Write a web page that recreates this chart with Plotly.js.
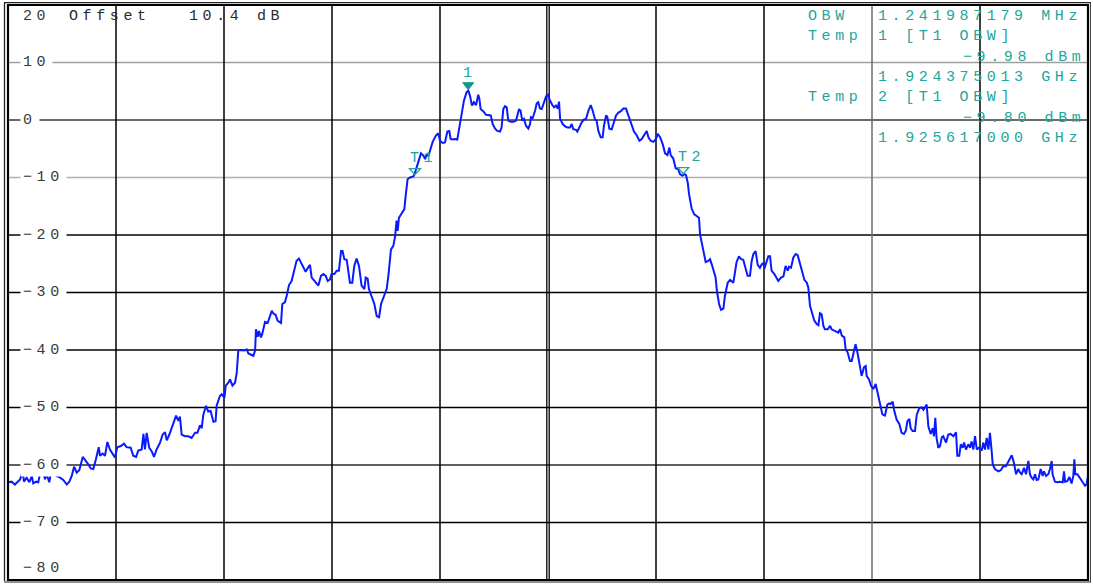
<!DOCTYPE html>
<html><head><meta charset="utf-8">
<script src="https://cdn.plot.ly/plotly-3.0.1.min.js"></script>
<style>
html,body{margin:0;padding:0;background:#fff;}
#chart{width:1093px;height:584px;}
text{letter-spacing:4.6px !important;}
</style></head><body><div id="chart"></div>
<script>
// ---- data (frequency in MHz, level in dBm) ----
const freqMHz = [
1922.502,1922.517,1922.532,1922.548,1922.556,1922.568,1922.574,1922.586,1922.599,1922.610,1922.617,1922.630,1922.640,1922.651,1922.660,1922.671,1922.679,1922.691,1922.702,1922.713,1922.725,1922.741,1922.756,1922.772,1922.784,1922.795,1922.806,1922.818,1922.830,1922.846,1922.861,1922.872,1922.883,1922.895,1922.907,1922.920,1922.926,1922.938,1922.949,1922.960,1922.972,1922.988,1922.995,1923.006,1923.022,1923.037,1923.049,1923.068,1923.080,1923.093,1923.103,1923.119,1923.127,1923.134,1923.142,1923.154,1923.165,1923.176,1923.188,1923.204,1923.216,1923.227,1923.235,1923.247,1923.262,1923.278,1923.289,1923.296,1923.304,1923.319,1923.335,1923.350,1923.366,1923.377,1923.389,1923.397,1923.404,1923.417,1923.427,1923.438,1923.451,1923.461,
1923.466,1923.481,1923.489,1923.502,1923.508,1923.520,1923.528,1923.539,1923.551,1923.559,1923.566,1923.579,1923.594,1923.605,1923.613,1923.628,1923.636,1923.644,1923.648,1923.656,1923.662,1923.671,1923.677,1923.690,1923.702,1923.713,1923.721,1923.728,1923.739,1923.748,1923.764,1923.770,1923.782,1923.790,1923.801,1923.813,1923.826,1923.836,1923.847,1923.856,1923.867,1923.878,1923.887,1923.898,1923.906,1923.918,1923.929,1923.937,1923.949,1923.960,1923.971,1923.980,1923.991,1923.998,1924.011,1924.022,1924.032,1924.042,1924.049,1924.057,1924.068,1924.076,1924.083,1924.094,1924.103,1924.114,1924.125,1924.137,1924.150,1924.156,1924.165,1924.171,1924.184,1924.196,1924.207,1924.218,1924.227,1924.238,1924.253,1924.261,1924.273,1924.284,1924.292,1924.299,1924.304,1924.310,1924.323,1924.335,1924.341,1924.350,1924.361,1924.377,1924.384,1924.392,1924.403,1924.412,1924.423,1924.431,1924.438,1924.446,
1924.454,1924.466,1924.481,1924.492,1924.500,1924.512,1924.523,1924.534,1924.543,1924.549,1924.559,1924.569,1924.580,1924.590,1924.600,1924.611,1924.623,1924.631,1924.639,1924.648,1924.657,1924.667,1924.677,1924.682,1924.688,1924.701,1924.713,1924.724,1924.735,1924.744,1924.755,1924.765,1924.778,1924.785,1924.793,1924.801,1924.809,1924.816,1924.827,1924.840,1924.852,1924.858,1924.866,1924.873,1924.881,1924.889,1924.898,1924.909,1924.917,1924.921,1924.929,1924.940,1924.948,1924.955,1924.963,1924.971,1924.981,1924.991,1925.000,1925.009,1925.020,1925.028,1925.037,1925.045,1925.051,1925.056,1925.068,1925.079,1925.090,1925.102,1925.110,1925.117,1925.130,1925.136,1925.145,1925.156,1925.167,1925.176,1925.187,1925.198,1925.207,1925.218,1925.225,1925.233,1925.244,1925.253,1925.259,1925.269,1925.275,1925.284,1925.295,1925.306,1925.315,1925.326,1925.336,1925.349,1925.361,1925.372,1925.383,1925.392,1925.398,1925.410,1925.423,1925.434,1925.444,1925.457,1925.465,1925.475,1925.488,1925.500,1925.508,1925.519,1925.531,1925.542,1925.553,1925.562,1925.568,1925.580,
1925.591,1925.603,1925.611,1925.622,1925.631,1925.639,1925.647,1925.653,1925.665,1925.677,1925.688,1925.699,1925.704,1925.715,1925.724,1925.730,1925.742,1925.750,1925.758,1925.770,1925.776,1925.782,1925.792,1925.801,1925.812,1925.819,1925.832,1925.843,1925.850,1925.858,1925.866,1925.873,1925.884,1925.894,1925.904,1925.912,1925.924,1925.935,1925.943,1925.951,1925.961,1925.971,1925.981,1925.989,1925.997,1926.002,1926.012,1926.020,1926.028,1926.035,1926.048,1926.059,1926.066,1926.079,1926.090,1926.100,1926.110,1926.116,1926.125,1926.136,1926.147,1926.156,1926.167,1926.178,1926.187,1926.198,1926.205,1926.213,1926.221,1926.233,1926.244,1926.252,1926.259,1926.267,1926.275,1926.282,1926.295,1926.306,1926.313,1926.329,1926.344,1926.352,1926.360,1926.372,1926.378,1926.387,1926.398,1926.406,1926.414,1926.424,1926.434,1926.444,1926.452,1926.463,1926.471,1926.475,1926.486,1926.495,1926.506,1926.517,1926.526,1926.537,1926.548,
1926.560,1926.571,1926.580,1926.586,1926.596,1926.602,1926.614,1926.627,1926.637,1926.648,1926.657,1926.664,1926.673,1926.679,1926.688,1926.699,1926.707,1926.719,1926.730,1926.738,1926.745,1926.753,1926.761,1926.772,1926.781,1926.787,1926.793,1926.799,1926.807,1926.815,1926.823,1926.830,1926.843,1926.853,1926.864,1926.877,1926.889,1926.895,1926.904,1926.911,1926.920,1926.926,1926.935,1926.946,1926.954,1926.961,1926.969,1926.977,1926.985,1926.997,1927.008,1927.015,1927.023,1927.031,1927.039,1927.046,1927.054,1927.059,1927.069,1927.085,1927.096,1927.108,1927.120,1927.131,1927.147,1927.157,1927.167,1927.177,1927.185,1927.193,1927.204,1927.213,1927.224,1927.231,1927.239,1927.247,1927.255,1927.262,1927.270,1927.281,1927.290,1927.296,1927.306,1927.316,1927.324,1927.332,1927.336,1927.347,1927.358,1927.370,1927.383,1927.389,1927.394,1927.404,1927.414,1927.424,1927.432,1927.437,1927.441,1927.451,1927.463,1927.475,1927.486,1927.494,1927.500
];
const levelDbm = [
-63.0,-62.9,-63.4,-62.9,-62.5,-61.1,-62.9,-62.2,-63.0,-61.9,-63.2,-62.9,-63.0,-61.1,-60.7,-62.5,-61.6,-63.0,-60.7,-61.1,-61.9,-62.2,-62.6,-63.4,-62.9,-61.9,-60.3,-61.3,-60.9,-58.6,-59.3,-59.9,-60.6,-60.7,-59.0,-56.9,-58.4,-58.0,-58.4,-56.0,-57.3,-58.4,-58.7,-56.9,-56.7,-56.3,-56.9,-57.0,-58.4,-58.6,-57.5,-57.3,-54.6,-57.3,-54.4,-57.0,-57.6,-58.6,-57.3,-56.1,-54.7,-54.3,-55.7,-54.7,-53.0,-51.4,-52.3,-51.6,-54.7,-55.0,-55.0,-55.3,-54.4,-54.4,-53.1,-53.6,-51.3,-49.7,-50.7,-50.6,-52.5,-52.4,
-49.7,-48.0,-47.7,-48.3,-46.2,-45.7,-45.1,-46.2,-45.7,-44.0,-40.1,-40.0,-40.1,-39.9,-40.6,-40.9,-41.0,-40.1,-36.4,-37.7,-36.7,-37.8,-37.2,-35.1,-35.3,-34.1,-33.2,-33.6,-33.9,-34.9,-35.3,-32.0,-31.7,-30.6,-28.7,-28.0,-25.7,-24.5,-24.1,-24.8,-25.8,-26.4,-25.8,-25.2,-27.4,-28.0,-28.6,-28.8,-27.1,-26.8,-27.1,-28.0,-27.7,-26.8,-26.8,-26.2,-26.2,-22.8,-22.8,-24.2,-24.3,-26.8,-28.3,-28.3,-25.4,-24.1,-25.4,-28.8,-29.4,-27.4,-27.6,-29.4,-30.6,-32.0,-34.1,-34.3,-32.0,-30.9,-29.4,-27.1,-22.5,-21.9,-20.3,-17.5,-19.3,-17.0,-16.1,-15.5,-13.2,-10.3,-10.0,-9.8,-9.2,-8.3,-6.8,-5.8,-6.2,-6.8,-5.9,-6.3,
-5.3,-3.8,-2.7,-2.3,-3.6,-4.0,-3.9,-2.0,-1.9,-3.3,-3.4,-3.3,-3.4,-1.0,1.3,3.4,4.8,5.1,4.2,2.5,3.1,2.6,4.4,3.8,1.9,1.5,0.9,0.8,0.8,-0.7,-1.5,-1.9,-2.0,-1.3,1.9,2.4,2.2,-0.1,-0.3,-0.3,-0.1,0.8,1.9,1.6,-0.1,0.2,-1.0,-1.5,-0.7,0.5,0.3,1.6,2.9,3.1,2.0,1.9,3.1,4.1,4.4,3.4,2.6,2.2,2.5,2.0,3.2,0.2,-0.7,-1.1,-1.3,-1.3,-0.7,-1.6,-1.7,-2.0,-1.3,-0.4,0.1,0.2,1.6,2.6,1.6,0.1,-0.1,-1.9,-3.0,-3.0,-1.0,0.8,0.5,-1.5,-1.6,-0.4,0.8,1.3,1.5,2.0,2.0,0.8,-0.3,-1.1,-2.0,-2.6,-3.6,-3.3,-2.6,-1.9,-3.0,-3.6,-3.8,-3.3,-2.4,-3.0,-4.2,-5.8,-6.1,-4.8,-6.1,-6.7,
-8.4,-8.6,-9.4,-9.7,-9.4,-9.6,-10.9,-12.9,-15.4,-16.4,-16.7,-17.0,-19.9,-21.9,-23.5,-24.7,-24.5,-24.2,-25.1,-26.5,-27.4,-29.7,-32.0,-33.0,-32.8,-30.6,-28.3,-27.8,-28.0,-28.3,-26.4,-24.7,-23.7,-24.2,-24.3,-25.4,-27.1,-27.1,-24.5,-23.3,-22.8,-25.2,-25.7,-25.1,-24.9,-25.8,-24.8,-23.7,-23.7,-26.2,-26.8,-27.6,-28.0,-27.4,-27.2,-25.4,-26.2,-25.5,-25.7,-23.9,-23.3,-23.5,-25.1,-26.5,-27.8,-28.3,-29.1,-32.3,-33.4,-34.9,-35.5,-35.7,-33.6,-33.8,-35.8,-36.4,-36.4,-35.8,-36.4,-36.7,-37.0,-36.4,-37.5,-37.8,-39.9,-40.4,-41.9,-41.9,-40.7,-39.0,-40.7,-42.8,-44.5,-43.0,-42.8,-44.5,-45.1,-46.2,-46.8,-45.9,-47.4,-49.1,-51.2,
-51.4,-49.5,-49.3,-49.4,-49.0,-50.4,-52.1,-52.9,-54.4,-54.6,-54.0,-52.4,-52.0,-53.6,-54.1,-54.1,-51.3,-50.1,-50.0,-50.4,-50.0,-49.5,-53.3,-54.6,-53.6,-55.0,-51.8,-55.3,-57.0,-56.7,-55.2,-55.0,-56.1,-54.7,-54.6,-55.0,-54.3,-58.4,-58.4,-56.4,-57.0,-56.1,-57.3,-56.4,-57.0,-55.9,-57.3,-55.0,-57.3,-56.9,-57.5,-56.1,-57.3,-55.3,-57.3,-54.4,-57.6,-59.9,-60.7,-61.1,-60.9,-60.2,-60.2,-59.3,-58.3,-59.6,-61.6,-60.7,-61.3,-61.6,-60.5,-61.6,-59.3,-61.6,-62.2,-62.5,-61.6,-62.6,-62.5,-60.7,-61.9,-61.1,-61.9,-61.6,-60.7,-59.3,-61.6,-62.9,-63.0,-62.9,-63.0,-61.1,-62.9,-62.8,-62.1,-63.2,-61.9,-59.0,-61.6,-61.6,-62.3,-62.9,-63.6,-63.3,-61.9
];
const yTickValues = [20,10,0,-10,-20,-30,-40,-50,-60,-70,-80];
const yTickLabels = ["20","10","0","\u221210","\u221220","\u221230","\u221240","\u221250","\u221260","\u221270","\u221280"];
const xGridMHz = [1923.0,1923.5,1924.0,1924.5,1925.0,1925.5,1926.0,1926.5,1927.0];
const yGridDb = [10,0,-10,-20,-30,-40,-50,-60,-70];
const headerTexts = ["Offset","10.4 dB"];
const infoLabels = ["OBW","Temp","","","Temp","",""];
const infoValues = ["1.241987179 MHz","1 [T1 OBW]","\u22129.98 dBm","1.924375013 GHz","2 [T1 OBW]","\u22129.80 dBm","1.925617000 GHz"];
const markerNames = ["1","T1","T2"];
const markerFreqMHz = [1924.626, 1924.375013, 1925.617];
const markerLevelDbm = [5.1, -9.98, -9.80];

// ---- layout helpers (pixel -> paper) ----
const W=1093,H=584,ML=8,MR=5,MT=5,MB=4;
const PW=W-ML-MR, PH=H-MT-MB;
const pxX = x => (x-ML)/PW;
const pxY = y => (H-MB-y)/PH;
const FONT = 'Liberation Mono, DejaVu Sans Mono, monospace';
const FS = 15;
const TEAL = '#22a69c';
// grid line styles (as rendered in the reference screenshot)
const hGridStyle = {'10':['#a0a0a0',1.4],'0':['#3a3a3a',1.5],'-10':['#b0b0b0',1.4],'-20':['#444444',1.8],'-30':['#000000',1.5],
  '-40':['#444444',1.8],'-50':['#000000',1.5],'-60':['#2a2a2a',1.7],'-70':['#000000',1.5]};
const vGridColor = v => (v===1926.5 ? '#6e6e6e' : '#000000');

const shapes = [];
yGridDb.forEach(v=>{
  const st = hGridStyle[String(v)];
  shapes.push({type:'line', xref:'paper', yref:'y', x0:0, x1:1, y0:v, y1:v, layer:'below', line:{color:st[0], width:st[1]}});
});
xGridMHz.forEach(v=>{
  if (v===1925.0) {
    [-1.2,1.2].forEach(d=>shapes.push({type:'line', xref:'x', yref:'paper', xsizemode:'pixel', xanchor:v, x0:d, x1:d, y0:0, y1:1, layer:'below', line:{color:'#000', width:1.3}}));
  } else {
    shapes.push({type:'line', xref:'x', yref:'paper', x0:v, x1:v, y0:0, y1:1, layer:'below', line:{color:vGridColor(v), width:1.5}});
  }
});
// frame
shapes.push({type:'rect', xref:'paper', yref:'paper', x0:0, x1:1, y0:0, y1:1, line:{color:'#000', width:2.2}});
shapes.push({type:'line', xref:'paper', yref:'paper', x0:pxX(4.5), x1:pxX(4.5), y0:pxY(581), y1:pxY(3), line:{color:'#222', width:1.3}});
shapes.push({type:'line', xref:'paper', yref:'paper', x0:pxX(1090.5), x1:pxX(1090.5), y0:pxY(582), y1:pxY(3), line:{color:'#444', width:1}});
shapes.push({type:'line', xref:'paper', yref:'paper', x0:pxX(4), x1:pxX(1091), y0:pxY(582), y1:pxY(582), line:{color:'#222', width:1.2}});
shapes.push({type:'line', xref:'paper', yref:'paper', x0:pxX(4), x1:pxX(1091), y0:pxY(2.6), y1:pxY(2.6), line:{color:'#222', width:1.2}});
// marker triangles
markerNames.forEach((n,i)=>{
  const filled = i===0;
  shapes.push({type:'path', xref:'x', yref:'y', xsizemode:'pixel', ysizemode:'pixel',
    xanchor:markerFreqMHz[i], yanchor:markerLevelDbm[i],
    path: filled ? 'M -4.5 8 L 6.5 8 L 1 1 Z' : 'M -3.5 8.8 L 7.5 8.8 L 2 2.6 Z',
    fillcolor: filled ? '#14988e' : 'rgba(0,0,0,0)', line:{color: filled ? '#14988e' : TEAL, width: filled?1:1.3}});
});

const annotations = [];
yTickValues.forEach((v,i)=>{
  const edge = (i===0 || i===yTickValues.length-1);
  annotations.push({xref:'paper', yref:'y', x:pxX(20), y:v, xanchor:'left', yanchor:'middle', align:'left',
    text:yTickLabels[i], showarrow:false, font:{family:FONT,size:FS,color:'#3a3a3a'},
    bgcolor: edge ? 'rgba(0,0,0,0)' : '#ffffff', borderpad:2,
    yshift: i===0 ? -11.5 : (i===yTickValues.length-1 ? 12 : 0)});
});
[68,188].forEach((x,i)=>{
  annotations.push({xref:'paper', yref:'paper', x:pxX(x), y:pxY(16.7), xanchor:'left', yanchor:'middle', align:'left',
    text:headerTexts[i], showarrow:false, font:{family:FONT,size:FS,color:'#2a2a2a'}, borderpad:0});
});
infoValues.forEach((t,i)=>{
  const yy = pxY(16.7 + 20.3*i);
  if (infoLabels[i]) annotations.push({xref:'paper', yref:'paper', x:pxX(807), y:yy, xanchor:'left', yanchor:'middle', align:'left',
    text:infoLabels[i], showarrow:false, font:{family:FONT,size:FS,color:TEAL}, borderpad:0});
  const isLevel = t.indexOf('dBm')>=0;
  annotations.push({xref:'paper', yref:'paper', x:pxX(isLevel?962:877), y:yy, xanchor:'left', yanchor:'middle', align:'left',
    text:t, showarrow:false, font:{family:FONT,size:FS,color:TEAL}, borderpad:0});
});
markerNames.forEach((n,i)=>{
  annotations.push({xref:'x', yref:'y', x:markerFreqMHz[i], y:markerLevelDbm[i],
    xanchor: i===0 ? 'center' : 'left', yanchor:'middle', align:'left', text:n, showarrow:false,
    font:{family:FONT,size:FS,color:TEAL}, borderpad:0,
    xshift: i===0 ? 3 : -4, yshift: i===0 ? 17 : 18.5});
});

const traces = [{
  x: freqMHz, y: levelDbm, type:'scatter', mode:'lines',
  line:{color:'#0a1aff', width:2}, hoverinfo:'skip'
}];

const layout = {
  width:W, height:H, margin:{l:ML, r:MR, t:MT, b:MB, pad:0},
  paper_bgcolor:'#fff', plot_bgcolor:'#fff', showlegend:false,
  xaxis:{range:[1922.5,1927.5], showgrid:false, zeroline:false, showticklabels:false, ticks:'', showline:false, fixedrange:true},
  yaxis:{range:[-80,20], showgrid:false, zeroline:false, showticklabels:false, ticks:'', showline:false, fixedrange:true},
  annotations: annotations, shapes: shapes
};
Plotly.newPlot('chart', traces, layout, {displayModeBar:false, staticPlot:true});
</script></body></html>
